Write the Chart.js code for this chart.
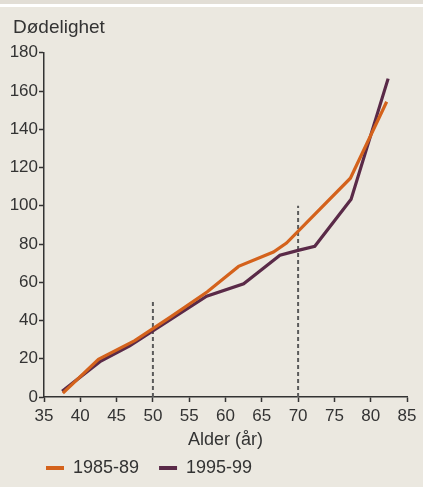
<!DOCTYPE html>
<html>
<head>
<meta charset="utf-8">
<script src="https://cdn.jsdelivr.net/npm/chart.js@4/dist/chart.umd.min.js"></script>
<style>
  html, body { margin: 0; padding: 0; background: #ebe8e0; }
  #band { height: 4px; background: #e2ded6; }
  #gap { height: 3px; background: #ffffff; }
  #wrap { position: relative; width: 423px; height: 480px; }
</style>
</head>
<body>
<div id="band"></div>
<div id="gap"></div>
<div id="wrap"><canvas id="chart"></canvas></div>
<script>
// --- DATA ---
const seriesNames = ['1985-89', '1995-99'];

const ageOld = [37.6, 42.5, 47.5, 52.5, 57.5, 61.8, 66.6, 68.4, 77.2, 82.2];
const rateOld = [2, 19.7, 29.5, 42, 55, 68.3, 75.8, 80.5, 114.4, 154.4];

const ageNew = [37.5, 42.7, 46.8, 57.4, 62.5, 67.5, 70, 72.3, 77.3, 82.4];
const rateNew = [3, 18.5, 26.8, 52.7, 59.2, 74.1, 76.7, 78.8, 103.4, 166.5];

// dashed markers at 50 and 70 years
const markAges = [50, 70];
const markTops = [50, 100];

const xTicks = [35, 40, 45, 50, 55, 60, 65, 70, 75, 80, 85];
const yTicks = [0, 20, 40, 60, 80, 100, 120, 140, 160, 180];

const colOld = '#d4621c';
const colNew = '#5a2a48';
const ink = '#333333';
const FONT = "'Liberation Sans', Arial, sans-serif";

function pts(xs, ys) {
    return xs.map((x, i) => ({ x: x, y: ys[i] }));
}

const datasets = [
    { label: seriesNames[0], data: pts(ageOld, rateOld), borderColor: colOld, backgroundColor: colOld, borderWidth: 3.2 },
    { label: seriesNames[1], data: pts(ageNew, rateNew), borderColor: colNew, backgroundColor: colNew, borderWidth: 3.2 }
];
markAges.forEach((a, i) => {
    datasets.push({
        label: 'mark' + a,
        data: [{ x: a, y: 0 }, { x: a, y: markTops[i] }],
        borderColor: '#5a5a5a',
        borderWidth: 2,
        borderDash: [4, 3],
        isMark: true
    });
});

// nudge title and legend to where the original has them
const placeBoxes = {
    id: 'placeBoxes',
    afterLayout(chart) {
        if (chart.titleBlock) chart.titleBlock.left = 13;
        if (chart.legend) chart.legend.left = 26;
    }
};

new Chart(document.getElementById('chart'), {
    type: 'line',
    data: { datasets: datasets },
    plugins: [placeBoxes],
    options: {
        responsive: true,
        maintainAspectRatio: false,
        animation: false,
        elements: { point: { radius: 0 }, line: { tension: 0, borderJoinStyle: 'miter' } },
        layout: { padding: { left: 0, right: 16, top: 0, bottom: 0 } },
        plugins: {
            title: {
                display: true,
                text: 'Dødelighet',
                align: 'start',
                color: ink,
                font: { family: FONT, size: 19, weight: 'normal' },
                padding: { top: 9, bottom: 14 }
            },
            legend: {
                position: 'bottom',
                align: 'start',
                labels: {
                    color: ink,
                    font: { family: FONT, size: 18 },
                    boxWidth: 18,
                    boxHeight: 4,
                    padding: 20,
                    generateLabels: chart => Chart.defaults.plugins.legend.labels.generateLabels(chart)
                        .filter(item => !datasets[item.datasetIndex].isMark)
                        .map(item => Object.assign(item, { lineWidth: 0 }))
                }
            },
            tooltip: { enabled: false }
        },
        scales: {
            x: {
                type: 'linear',
                min: 35,
                max: 85,
                afterBuildTicks: s => { s.ticks = xTicks.map(v => ({ value: v })); },
                afterFit: s => { s.height = 42; },
                ticks: { color: ink, font: { family: FONT, size: 17 }, padding: 4, maxRotation: 0 },
                grid: { drawOnChartArea: false, drawTicks: true, tickLength: 5, tickColor: ink, tickWidth: 1.5 },
                border: { color: ink, width: 1.5 },
                title: { display: true, text: 'Alder (år)', color: ink, font: { family: FONT, size: 18 }, padding: { top: 0, bottom: -12 } }
            },
            y: {
                min: 0,
                max: 180,
                afterBuildTicks: s => { s.ticks = yTicks.map(v => ({ value: v })); },
                afterFit: s => { s.width = 44; },
                ticks: { color: ink, font: { family: FONT, size: 17 }, padding: 1 },
                grid: { drawOnChartArea: false, drawTicks: true, tickLength: 5, tickColor: ink, tickWidth: 1.5 },
                border: { color: ink, width: 1.5 }
            }
        }
    }
});
</script>
</body>
</html>
